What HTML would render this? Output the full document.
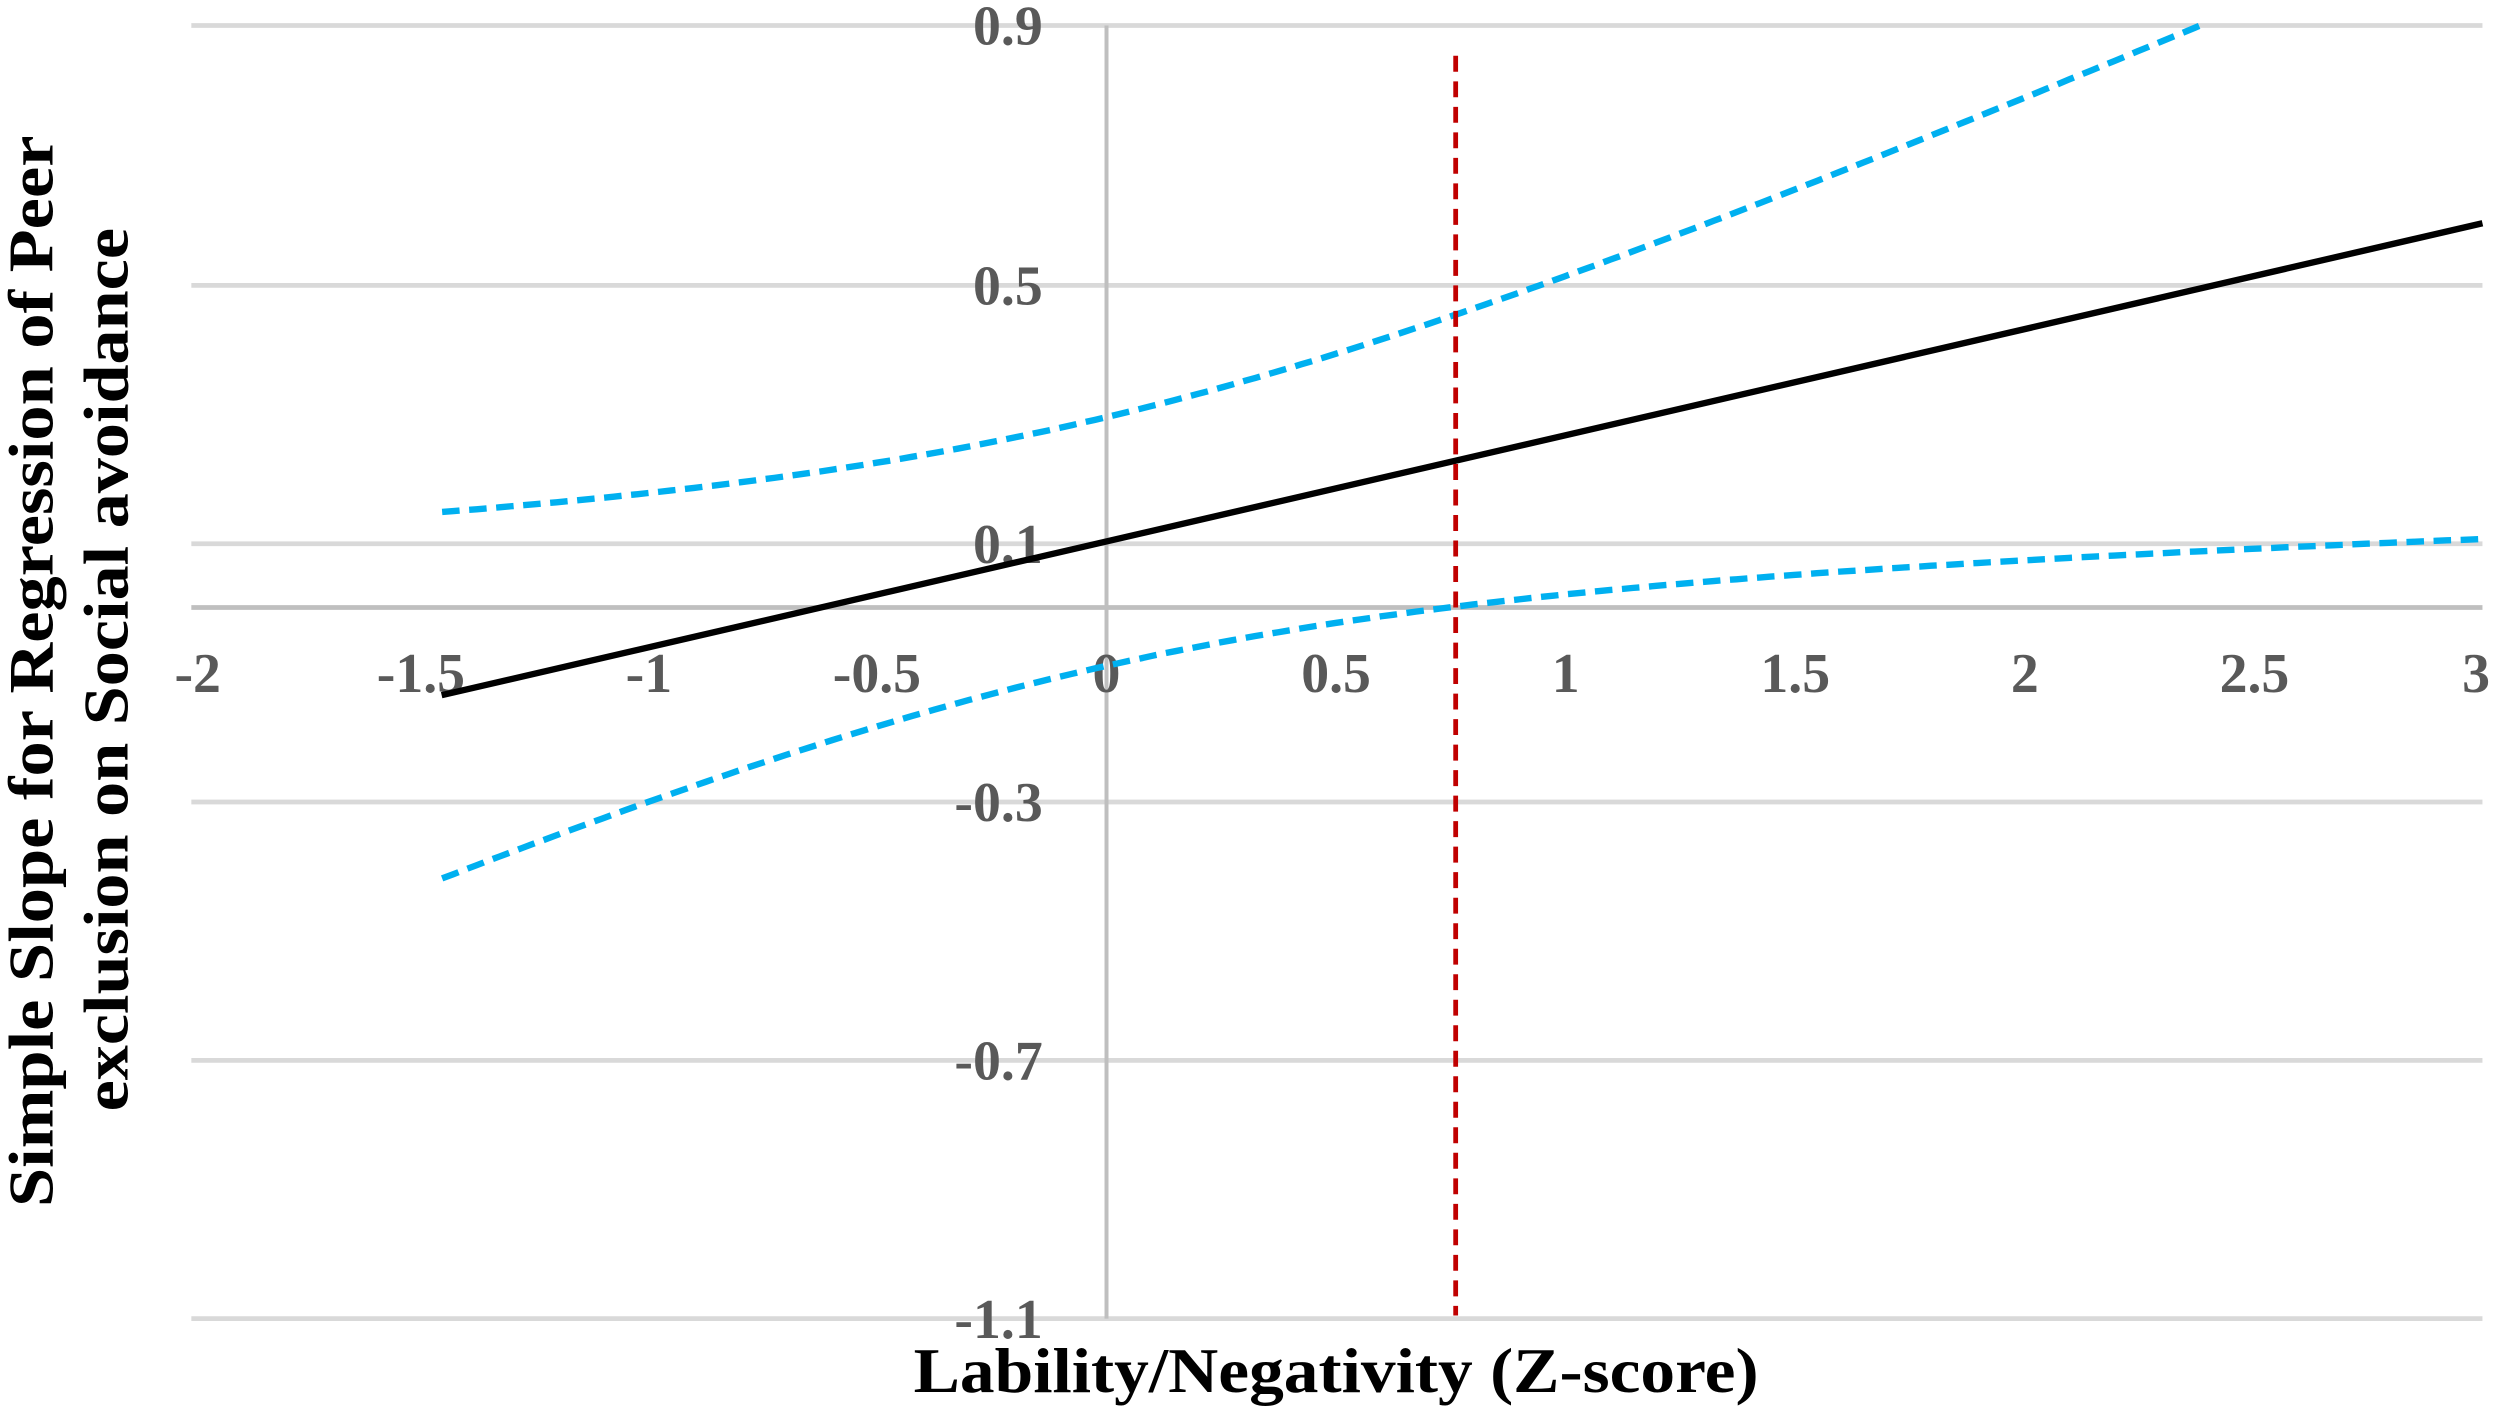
<!DOCTYPE html>
<html><head><meta charset="utf-8"><style>
html,body{margin:0;padding:0;background:#fff;}
svg{display:block;}
</style></head><body>
<svg width="2500" height="1410" viewBox="0 0 1568 884.3" preserveAspectRatio="none" xmlns="http://www.w3.org/2000/svg">
<rect width="1568" height="884.3" fill="#fff"/>
<g stroke="#d9d9d9" stroke-width="3">
<line x1="120" y1="16" x2="1557" y2="16"/>
<line x1="120" y1="179" x2="1557" y2="179"/>
<line x1="120" y1="341" x2="1557" y2="341"/>
<line x1="120" y1="503" x2="1557" y2="503"/>
<line x1="120" y1="665" x2="1557" y2="665"/>
<line x1="120" y1="827" x2="1557" y2="827"/>
</g>
<line x1="120" y1="381" x2="1557" y2="381" stroke="#bfbfbf" stroke-width="3"/>
<line x1="694" y1="16" x2="694" y2="827" stroke="#bfbfbf" stroke-width="2.5"/>
<g font-family="Liberation Serif, serif" font-weight="bold" font-size="35" fill="#595959" text-anchor="middle">
<text x="124" y="434">-2</text>
<text x="264" y="434">-1.5</text>
<text x="407" y="434">-1</text>
<text x="550" y="434">-0.5</text>
<text x="694" y="434">0</text>
<text x="838" y="434">0.5</text>
<text x="982" y="434">1</text>
<text x="1126" y="434">1.5</text>
<text x="1270" y="434">2</text>
<text x="1414" y="434">2.5</text>
<text x="1553" y="434">3</text>
</g>
<g font-family="Liberation Serif, serif" font-weight="bold" font-size="35" fill="#595959" text-anchor="end">
<text x="654" y="28">0.9</text>
<text x="654" y="191">0.5</text>
<text x="654" y="353">0.1</text>
<text x="654" y="515">-0.3</text>
<text x="654" y="677">-0.7</text>
<text x="654" y="839">-1.1</text>
</g>
<path id="up" fill="none" stroke="#00b0f0" stroke-width="4" stroke-dasharray="11,6" d=""/>
<path id="lo" fill="none" stroke="#00b0f0" stroke-width="4" stroke-dasharray="11,6" d=""/>
<line x1="277" y1="436" x2="1557" y2="140" stroke="#000" stroke-width="4"/>
<line x1="913" y1="35" x2="913" y2="825" stroke="#c00000" stroke-width="3" stroke-dasharray="10,6"/>
<text x="838" y="873" font-family="Liberation Serif, serif" font-weight="bold" font-size="40" fill="#000" text-anchor="middle" textLength="530" lengthAdjust="spacingAndGlyphs">Lability/Negativity (Z-score)</text>
<text transform="translate(33,421) rotate(-90)" font-family="Liberation Serif, serif" font-weight="bold" font-size="40" fill="#000" text-anchor="middle" textLength="672" lengthAdjust="spacingAndGlyphs">Simple Slope for Regression of  Peer</text>
<text transform="translate(80,420) rotate(-90)" font-family="Liberation Serif, serif" font-weight="bold" font-size="40" fill="#000" text-anchor="middle" textLength="554" lengthAdjust="spacingAndGlyphs">exclusion on Social avoidance</text>
</svg>
<script>
(function(){
function px(v){return 694+v*287.4;}
function yc(v){return 436-66.5*(v+1.45);}
function h(v){return Math.sqrt(6084+286*v+3584.6*v*v);}
var u="",l="";
for(var v=-1.45;v<=3.0001;v+=0.025){
  var x=px(v),c=yc(v),hh=h(v);
  var yu=c-hh;
  if(yu>=14){u+=(u?"L":"M")+x.toFixed(1)+","+yu.toFixed(1);}
  l+=(l?"L":"M")+x.toFixed(1)+","+(c+hh).toFixed(1);
}
document.getElementById("up").setAttribute("d",u);
document.getElementById("lo").setAttribute("d",l);
})();
</script>
</body></html>
